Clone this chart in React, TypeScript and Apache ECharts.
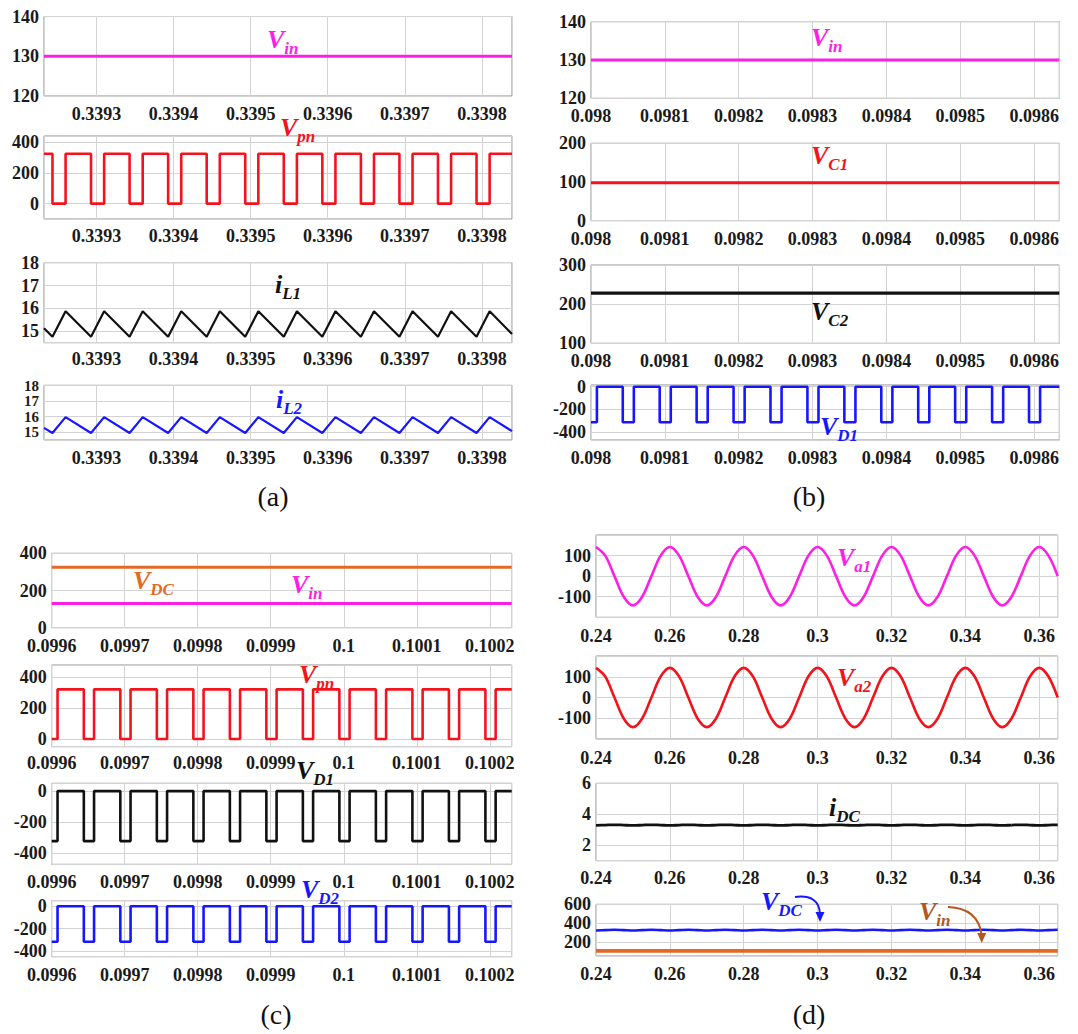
import React, { useEffect, useRef } from 'react';
import * as echarts from 'echarts';

const FONT = "'Liberation Serif', 'Times New Roman', serif";

const MAGENTA = '#ff1fe4';
const RED = '#f2141c';
const BLACK = '#111111';
const BLUE = '#1717ff';
const ORANGE = '#e26a24';
const BROWN = '#b5561c';

// ---------------- Panel (a) ----------------
const aXLabels = ['0.3393', '0.3394', '0.3395', '0.3396', '0.3397', '0.3398'];
const aXRange = [0.339232, 0.339839];
const aTimes = [
  0.339232, 0.339243, 0.33926, 0.339293, 0.33931, 0.339343, 0.33936, 0.339393, 0.33941,
  0.339443, 0.33946, 0.339493, 0.33951, 0.339543, 0.33956, 0.339593, 0.33961, 0.339643,
  0.33966, 0.339693, 0.33971, 0.339743, 0.33976, 0.339793, 0.33981, 0.339839,
];
const aVin = 130;
const aVpn = [
  325, 0, 325, 0, 325, 0, 325, 0, 325, 0, 325, 0, 325, 0, 325, 0, 325, 0, 325, 0, 325, 0, 325, 0, 325, 325,
];
const aIL1 = [
  15.13, 14.76, 15.88, 14.76, 15.88, 14.76, 15.88, 14.76, 15.88, 14.76, 15.88, 14.76, 15.88,
  14.76, 15.88, 14.76, 15.88, 14.76, 15.88, 14.76, 15.88, 14.76, 15.88, 14.76, 15.88, 14.88,
];
const aIL2 = [
  15.28, 14.95, 15.97, 14.95, 15.97, 14.95, 15.97, 14.95, 15.97, 14.95, 15.97, 14.95, 15.97,
  14.95, 15.97, 14.95, 15.97, 14.95, 15.97, 14.95, 15.97, 14.95, 15.97, 14.95, 15.97, 15.07,
];
const aYVinLabels = ['120', '130', '140'];
const aYVpnLabels = ['0', '200', '400'];
const aYILLabels = ['15', '16', '17', '18'];

// ---------------- Panel (b) ----------------
const bXLabels = ['0.098', '0.0981', '0.0982', '0.0983', '0.0984', '0.0985', '0.0986'];
const bXRange = [0.098, 0.098634];
const bTimes = [
  0.098, 0.098008, 0.098043, 0.098058, 0.098093, 0.098108, 0.098143, 0.098158, 0.098193,
  0.098208, 0.098243, 0.098258, 0.098293, 0.098308, 0.098343, 0.098358, 0.098393, 0.098408,
  0.098443, 0.098458, 0.098493, 0.098508, 0.098543, 0.098558, 0.098593, 0.098608, 0.098634,
];
const bVin = 130;
const bVC1 = 98;
const bVC2 = 228;
const bVD1 = [
  -314, 0, -314, 0, -314, 0, -314, 0, -314, 0, -314, 0, -314, 0, -314, 0, -314, 0, -314, 0,
  -314, 0, -314, 0, -314, 0, 0,
];
const bYVinLabels = ['120', '130', '140'];
const bYC1Labels = ['0', '100', '200'];
const bYC2Labels = ['100', '200', '300'];
const bYD1Labels = ['-400', '-200', '0'];

// ---------------- Panel (c) ----------------
const cXLabels = ['0.0996', '0.0997', '0.0998', '0.0999', '0.1', '0.1001', '0.1002'];
const cXRange = [0.0996, 0.10023];
const cTimes = [
  0.0996, 0.099608, 0.099644, 0.099658, 0.099694, 0.099708, 0.099744, 0.099758, 0.099794,
  0.099808, 0.099844, 0.099858, 0.099894, 0.099908, 0.099944, 0.099958, 0.099994, 0.100008,
  0.100044, 0.100058, 0.100094, 0.100108, 0.100144, 0.100158, 0.100194, 0.100208, 0.10023,
];
const cVDC = 325;
const cVin = 130;
const cVpn = [
  0, 322, 0, 322, 0, 322, 0, 322, 0, 322, 0, 322, 0, 322, 0, 322, 0, 322, 0, 322, 0, 322, 0, 322,
  0, 322, 322,
];
const cVD1 = [
  -321, 0, -321, 0, -321, 0, -321, 0, -321, 0, -321, 0, -321, 0, -321, 0, -321, 0, -321, 0,
  -321, 0, -321, 0, -321, 0, 0,
];
const cVD2 = [
  -316, 0, -316, 0, -316, 0, -316, 0, -316, 0, -316, 0, -316, 0, -316, 0, -316, 0, -316, 0,
  -316, 0, -316, 0, -316, 0, 0,
];
const cY1Labels = ['0', '200', '400'];
const cY2Labels = ['0', '200', '400'];
const cYDLabels = ['-400', '-200', '0'];

// ---------------- Panel (d) ----------------
const dXLabels = ['0.24', '0.26', '0.28', '0.3', '0.32', '0.34', '0.36'];
const dXRange = [0.24, 0.365];
const dTimes = [
  0.24, 0.2425, 0.245, 0.2475, 0.25, 0.2525, 0.255, 0.2575, 0.26, 0.2625, 0.265, 0.2675, 0.27,
  0.2725, 0.275, 0.2775, 0.28, 0.2825, 0.285, 0.2875, 0.29, 0.2925, 0.295, 0.2975, 0.3, 0.3025,
  0.305, 0.3075, 0.31, 0.3125, 0.315, 0.3175, 0.32, 0.3225, 0.325, 0.3275, 0.33, 0.3325, 0.335,
  0.3375, 0.34, 0.3425, 0.345, 0.3475, 0.35, 0.3525, 0.355, 0.3575, 0.36, 0.3625, 0.365,
];
const dVa1 = [
  142, 100, 0, -100, -142, -100, 0, 100, 142, 100, 0, -100, -142, -100, 0, 100, 142, 100, 0,
  -100, -142, -100, 0, 100, 142, 100, 0, -100, -142, -100, 0, 100, 142, 100, 0, -100, -142,
  -100, 0, 100, 142, 100, 0, -100, -142, -100, 0, 100, 142, 100, 0,
];
const dVa2 = [
  143, 101, 0, -101, -143, -101, 0, 101, 143, 101, 0, -101, -143, -101, 0, 101, 143, 101, 0,
  -101, -143, -101, 0, 101, 143, 101, 0, -101, -143, -101, 0, 101, 143, 101, 0, -101, -143,
  -101, 0, 101, 143, 101, 0, -101, -143, -101, 0, 101, 143, 101, 0,
];
const dIDC = [
  3.28, 3.3, 3.32, 3.3, 3.28, 3.3, 3.32, 3.3, 3.28, 3.3, 3.32, 3.3, 3.28, 3.3, 3.32, 3.3, 3.28,
  3.3, 3.32, 3.3, 3.28, 3.3, 3.32, 3.3, 3.28, 3.3, 3.32, 3.3, 3.28, 3.3, 3.32, 3.3, 3.28, 3.3,
  3.32, 3.3, 3.28, 3.3, 3.32, 3.3, 3.28, 3.3, 3.32, 3.3, 3.28, 3.3, 3.32, 3.3, 3.28, 3.3, 3.32,
];
const dVDC = [
  321, 325, 329, 325, 321, 325, 329, 325, 321, 325, 329, 325, 321, 325, 329, 325, 321, 325, 329,
  325, 321, 325, 329, 325, 321, 325, 329, 325, 321, 325, 329, 325, 321, 325, 329, 325, 321, 325,
  329, 325, 321, 325, 329, 325, 321, 325, 329, 325, 321, 325, 329,
];
const dVin = 105;
const dYaLabels = ['-100', '0', '100'];
const dYIDCLabels = ['2', '4', '6'];
const dYVLabels = ['200', '400', '600'];

// ---------------- helpers ----------------
type Pt = [number, number];
const zip = (t: number[], v: number[]): Pt[] => t.map((x, i) => [x, v[i]] as Pt);
const flat = (r: number[], v: number): Pt[] => [[r[0], v], [r[1], v]];

type SeriesSpec = { data: Pt[]; color: string; width: number; step?: boolean; smooth?: number };
type AxisSpec = { min: number; max: number; iv: number; labels: string[] };
type PanelSpec = {
  rect: [number, number, number, number];
  x: AxisSpec;
  xMargin: number;
  y: AxisSpec;
  yCompact?: boolean;
  series: SeriesSpec[];
};

const ax = (r: number[], iv: number, labels: string[]): AxisSpec => ({ min: r[0], max: r[1], iv, labels });

const panels: PanelSpec[] = [
  // (a)
  { rect: [44, 16.5, 468, 79.5], x: ax(aXRange, 0.0001, aXLabels), xMargin: 9,
    y: ax([120, 140], 10, aYVinLabels), series: [{ data: flat(aXRange, aVin), color: MAGENTA, width: 3 }] },
  { rect: [44, 136, 468, 83], x: ax(aXRange, 0.0001, aXLabels), xMargin: 8,
    y: ax([-100, 440], 200, aYVpnLabels), series: [{ data: zip(aTimes, aVpn), color: RED, width: 2.6, step: true }] },
  { rect: [44, 262.7, 468, 80], x: ax(aXRange, 0.0001, aXLabels), xMargin: 7,
    y: ax([14.5, 18], 1, aYILLabels), series: [{ data: zip(aTimes, aIL1), color: BLACK, width: 2.2 }] },
  { rect: [44, 385.3, 468, 54.7], x: ax(aXRange, 0.0001, aXLabels), xMargin: 9,
    y: ax([14.5, 18.02], 1, aYILLabels), yCompact: true, series: [{ data: zip(aTimes, aIL2), color: BLUE, width: 2.2 }] },
  // (b)
  { rect: [591, 21.7, 468.3, 76.6], x: ax(bXRange, 0.0001, bXLabels), xMargin: 9,
    y: ax([120, 140], 10, bYVinLabels), series: [{ data: flat(bXRange, bVin), color: MAGENTA, width: 3 }] },
  { rect: [591, 143.3, 468.3, 77.4], x: ax(bXRange, 0.0001, bXLabels), xMargin: 9,
    y: ax([0, 200], 100, bYC1Labels), series: [{ data: flat(bXRange, bVC1), color: RED, width: 3.2 }] },
  { rect: [591, 265, 468.3, 78.3], x: ax(bXRange, 0.0001, bXLabels), xMargin: 9,
    y: ax([100, 300], 100, bYC2Labels), series: [{ data: flat(bXRange, bVC2), color: BLACK, width: 3.2 }] },
  { rect: [591, 385, 468.3, 55], x: ax(bXRange, 0.0001, bXLabels), xMargin: 9,
    y: ax([-470, 15], 200, bYD1Labels), series: [{ data: zip(bTimes, bVD1), color: BLUE, width: 2.6, step: true }] },
  // (c)
  { rect: [51.7, 553.3, 460, 74.4], x: ax(cXRange, 0.0001, cXLabels), xMargin: 9,
    y: ax([0, 400], 200, cY1Labels), series: [
      { data: flat(cXRange, cVDC), color: ORANGE, width: 3 },
      { data: flat(cXRange, cVin), color: MAGENTA, width: 3 },
    ] },
  { rect: [51.7, 665, 460, 81.7], x: ax(cXRange, 0.0001, cXLabels), xMargin: 7,
    y: ax([-50, 480], 200, cY2Labels), series: [{ data: zip(cTimes, cVpn), color: RED, width: 2.6, step: true }] },
  { rect: [51.7, 783.3, 460, 81], x: ax(cXRange, 0.0001, cXLabels), xMargin: 9,
    y: ax([-470, 50], 200, cYDLabels), series: [{ data: zip(cTimes, cVD1), color: BLACK, width: 2.6, step: true }] },
  { rect: [51.7, 900.7, 460, 56], x: ax(cXRange, 0.0001, cXLabels), xMargin: 9,
    y: ax([-450, 50], 200, cYDLabels), series: [{ data: zip(cTimes, cVD2), color: BLUE, width: 2.6, step: true }] },
  // (d)
  { rect: [596, 535, 461.7, 82.3], x: ax(dXRange, 0.02, dXLabels), xMargin: 10,
    y: ax([-200, 200], 100, dYaLabels), series: [{ data: zip(dTimes, dVa1), color: MAGENTA, width: 2.6, smooth: 0.35 }] },
  { rect: [596, 656, 461.7, 83], x: ax(dXRange, 0.02, dXLabels), xMargin: 10,
    y: ax([-200, 200], 100, dYaLabels), series: [{ data: zip(dTimes, dVa2), color: RED, width: 2.6, smooth: 0.35 }] },
  { rect: [596, 783.3, 461.7, 77.4], x: ax(dXRange, 0.02, dXLabels), xMargin: 8,
    y: ax([1, 6], 2, dYIDCLabels), series: [{ data: zip(dTimes, dIDC), color: BLACK, width: 2.8, smooth: 0.35 }] },
  { rect: [596, 904.3, 461.7, 51.7], x: ax(dXRange, 0.02, dXLabels), xMargin: 9,
    y: ax([50, 600], 200, dYVLabels), series: [
      { data: zip(dTimes, dVDC), color: BLUE, width: 2.6, smooth: 0.35 },
      { data: flat(dXRange, dVin), color: ORANGE, width: 3.6 },
    ] },
];

// curve annotations: [x, baseline, main, subscript, color]
const curveLabels: [number, number, string, string, string][] = [
  [267, 48, 'V', 'in', MAGENTA],
  [280, 136.5, 'V', 'pn', RED],
  [275, 293, 'i', 'L1', BLACK],
  [276, 408, 'i', 'L2', BLUE],
  [811, 46, 'V', 'in', MAGENTA],
  [811, 164, 'V', 'C1', RED],
  [811, 320, 'V', 'C2', BLACK],
  [820, 435, 'V', 'D1', BLUE],
  [133, 589, 'V', 'DC', ORANGE],
  [291, 593, 'V', 'in', MAGENTA],
  [299, 683, 'V', 'pn', RED],
  [296, 779, 'V', 'D1', BLACK],
  [301, 898, 'V', 'D2', BLUE],
  [837, 566, 'V', 'a1', MAGENTA],
  [837, 686, 'V', 'a2', RED],
  [829, 816, 'i', 'DC', BLACK],
  [761, 910, 'V', 'DC', BLUE],
  [919, 920, 'V', 'in', BROWN],
];

const panelTitles: [number, number, string][] = [
  [273, 496, '(a)'],
  [809, 496, '(b)'],
  [276, 1014, '(c)'],
  [809, 1014, '(d)'],
];

const tickFont = { fontFamily: FONT, fontWeight: 'bold' as const, fontSize: 18, color: '#1a1a1a' };

const pick = (labels: string[]) => (v: number) => {
  const hit = labels.find((l) => Math.abs(parseFloat(l) - v) < 1e-9);
  return hit === undefined ? '' : hit;
};

function buildOption() {
  const grid = panels.map((p) => ({
    left: p.rect[0], top: p.rect[1], width: p.rect[2], height: p.rect[3],
    show: true, borderColor: '#8f8f8f', borderWidth: 1, backgroundColor: 'rgba(0,0,0,0)',
  }));
  const splitLine = { show: true, lineStyle: { color: '#d3d3d3', width: 1 } };
  const xAxis = panels.map((p, i) => ({
    type: 'value', gridIndex: i, min: p.x.min, max: p.x.max,
    minInterval: p.x.iv, maxInterval: p.x.iv,
    axisLine: { show: false }, axisTick: { show: false }, splitLine,
    axisLabel: { ...tickFont, margin: p.xMargin, formatter: pick(p.x.labels), showMinLabel: true, showMaxLabel: true, hideOverlap: false },
  }));
  const yAxis = panels.map((p, i) => ({
    type: 'value', gridIndex: i, min: p.y.min, max: p.y.max,
    minInterval: p.y.iv, maxInterval: p.y.iv,
    axisLine: { show: false }, axisTick: { show: false }, splitLine,
    axisLabel: {
      ...tickFont, margin: 5, formatter: pick(p.y.labels), showMinLabel: true, showMaxLabel: true, hideOverlap: false,
      ...(p.yCompact ? { fontSize: 15, lineHeight: 15, showMaxLabel: false } : {}),
    },
  }));
  const series: any[] = [];
  panels.forEach((p, i) => {
    p.series.forEach((s) => {
      series.push({
        type: 'line', xAxisIndex: i, yAxisIndex: i, data: s.data,
        showSymbol: false, symbol: 'none', silent: true,
        step: s.step ? 'end' : false,
        smooth: s.smooth ? s.smooth : false,
        lineStyle: { color: s.color, width: s.width },
        itemStyle: { color: s.color },
      });
    });
  });

  const graphic: any[] = [];
  curveLabels.forEach(([x, base, m, s, color]) => {
    graphic.push({
      type: 'text', x, y: base - 22, z: 100, silent: true,
      style: {
        text: `{m|${m}}{s|${s}}`,
        align: 'left', verticalAlign: 'top',
        rich: {
          m: { fontFamily: FONT, fontStyle: 'italic', fontWeight: 'bold', fontSize: 26, fill: color, verticalAlign: 'top' },
          s: { fontFamily: FONT, fontStyle: 'italic', fontWeight: 'bold', fontSize: 17, fill: color, verticalAlign: 'top', padding: [13.5, 0, 0, 0] },
        },
      },
    });
  });
  panelTitles.forEach(([x, y, t]) => {
    graphic.push({
      type: 'text', x, y, z: 100, silent: true,
      style: { text: t, fontFamily: FONT, fontSize: 28, fill: '#111', align: 'center', verticalAlign: 'middle' },
    });
  });
  // arrows in (d)
  graphic.push(
    { type: 'bezierCurve', z: 100, silent: true, shape: { x1: 795, y1: 897, cpx1: 819, cpy1: 894, x2: 820, y2: 914 },
      style: { stroke: BLUE, lineWidth: 2, fill: 'none' } },
    { type: 'polygon', z: 100, silent: true, shape: { points: [[815.5, 912], [824.5, 912], [820, 922]] },
      style: { fill: BLUE } },
    { type: 'bezierCurve', z: 100, silent: true, shape: { x1: 948, y1: 907, cpx1: 978, cpy1: 908, x2: 981.7, y2: 935 },
      style: { stroke: BROWN, lineWidth: 2, fill: 'none' } },
    { type: 'polygon', z: 100, silent: true, shape: { points: [[977.2, 933], [986.2, 933], [981.7, 943]] },
      style: { fill: BROWN } },
  );

  return {
    animation: false,
    backgroundColor: '#ffffff',
    grid, xAxis, yAxis, series, graphic,
  };
}

export default function App() {
  const ref = useRef<HTMLDivElement>(null);
  useEffect(() => {
    if (!ref.current) return;
    const chart = echarts.init(ref.current, undefined, { renderer: 'svg' });
    chart.setOption(buildOption() as any);
    return () => chart.dispose();
  }, []);
  return (
    <div
      ref={ref}
      style={{ position: 'fixed', left: 0, top: 0, width: 1078, height: 1034, background: '#fff' }}
    />
  );
}
